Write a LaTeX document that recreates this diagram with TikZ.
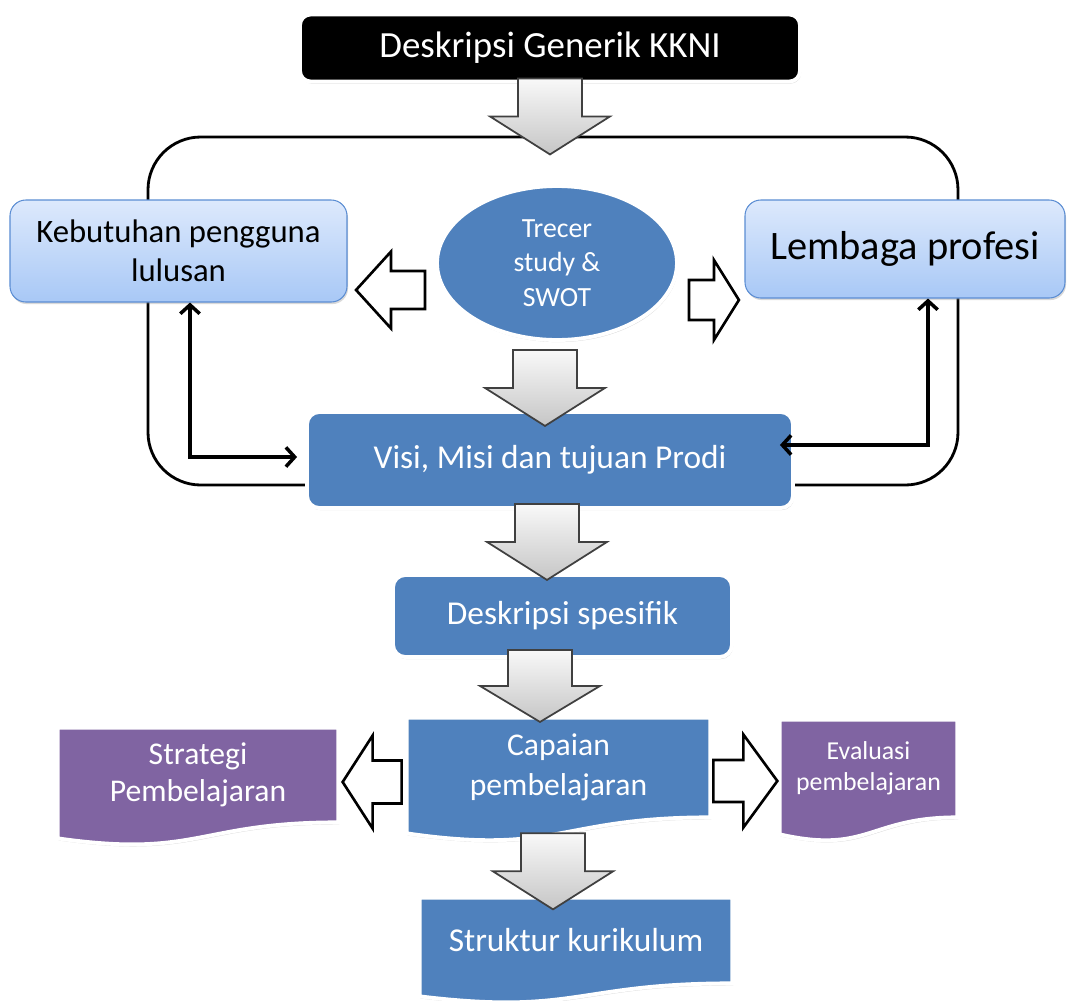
\documentclass[tikz,border=0pt]{standalone}
\usepackage{fontspec}
\setmainfont{Carlito}
\usepackage{tikz}
\usetikzlibrary{shapes.geometric,calc,backgrounds,shadows,arrows.meta}
\usepackage{xcolor}

\definecolor{prodiblue}{HTML}{4F81BD}
\definecolor{ungu}{HTML}{8064A2}
\definecolor{mudatop}{HTML}{DDE9FC}
\definecolor{mudabot}{HTML}{A8C8F6}
\definecolor{mudaedge}{HTML}{5B8DD3}

\tikzset{
  softshadow/.style={drop shadow={opacity=0.3,shadow xshift=0.6pt,shadow yshift=-1.2pt}},
  bluebox/.style={rectangle,rounded corners=7pt,fill=prodiblue,draw=white,line width=2.2pt,softshadow,text=white,inner sep=0pt,font=\fontsize{19pt}{23pt}\selectfont,align=center},
  lightbox/.style={rectangle,rounded corners=9pt,top color=mudatop,bottom color=mudabot,draw=mudaedge,line width=0.6pt,softshadow,inner sep=0pt,align=center},
  doctext/.style={inner sep=0pt,text=white,align=center},
  docpath/.style={draw=white,line width=2.2pt,softshadow},
  grayarrow/.style={top color=gray!5,bottom color=gray!45,draw=black!75,line width=1pt},
  hollow/.style={fill=white,draw=black,line width=1.5pt},
  elbow/.style={line width=2pt,{Straight Barb[length=5pt,width=11pt]}-{Straight Barb[length=5pt,width=11pt]}},
  loopline/.style={line width=1.6pt,rounded corners=30pt}
}

\begin{document}
\begin{tikzpicture}[x=0.2mm,y=-0.2mm]
\useasboundingbox (0,0) rectangle (1073,1001);

% boxes
\node[bluebox,fill=black,rounded corners=6pt,minimum width=100mm,minimum height=13.4mm,font=\fontsize{21pt}{25pt}\selectfont] (kkni) at (550,48) {Deskripsi Generik KKNI};
\node[lightbox,minimum width=67.4mm,minimum height=20.4mm,font=\fontsize{18.6pt}{22pt}\selectfont] (keb) at (178.5,251) {Kebutuhan pengguna\\lulusan};
\node[lightbox,minimum width=64mm,minimum height=19.6mm,font=\fontsize{23pt}{27pt}\selectfont] (lemb) at (905,249) {Lembaga profesi};
\node[ellipse,fill=prodiblue,draw=white,line width=2.2pt,softshadow,minimum width=48mm,minimum height=30.8mm,inner sep=0pt,text=white,align=center,font=\fontsize{15.8pt}{19.5pt}\selectfont] (trecer) at (557,263) {Trecer\\study \&\\SWOT};
\node[bluebox,minimum width=97.2mm,minimum height=19.2mm] (visi) at (550,460) {Visi, Misi dan tujuan Prodi};
\node[bluebox,minimum width=67.8mm,minimum height=16.4mm] (desk) at (562.5,616) {Deskripsi spesifik};
\node[doctext,minimum width=60.6mm,minimum height=19.8mm,font=\fontsize{18pt}{22.7pt}\selectfont] (capaian) at (558.5,767.5) {Capaian\\pembelajaran};
\node[doctext,minimum width=56mm,minimum height=18.8mm,font=\fontsize{18pt}{21pt}\selectfont] (strategi) at (198,775) {Strategi\\Pembelajaran};
\node[doctext,minimum width=35.4mm,minimum height=19.4mm,font=\fontsize{14.7pt}{17.5pt}\selectfont] (evaluasi) at (868.5,768.5) {Evaluasi\\pembelajaran};
\node[doctext,minimum width=62.4mm,minimum height=17mm,font=\fontsize{19pt}{23pt}\selectfont] (struktur) at (576,940.5) {Struktur kurikulum};

\begin{scope}[on background layer]
\draw[loopline] (148,137) rectangle (958,485);
% wavy document shapes
\path[docpath,fill=prodiblue] (capaian.north west) -- (capaian.north east) -- (capaian.south east) .. controls (capaian.south) and ($(capaian.south)+(0,38)$) .. ($(capaian.south west)+(0,16)$) -- cycle;
\path[docpath,fill=ungu] (strategi.north west) -- (strategi.north east) -- (strategi.south east) .. controls (strategi.south) and ($(strategi.south)+(0,36)$) .. ($(strategi.south west)+(0,16)$) -- cycle;
\path[docpath,fill=ungu] (evaluasi.north west) -- (evaluasi.north east) -- (evaluasi.south east) .. controls (evaluasi.south) and ($(evaluasi.south)+(0,37)$) .. ($(evaluasi.south west)+(0,17)$) -- cycle;
\path[docpath,fill=prodiblue] (struktur.north west) -- (struktur.north east) -- (struktur.south east) .. controls (struktur.south) and ($(struktur.south)+(0,32)$) .. ($(struktur.south west)+(0,13)$) -- cycle;
\end{scope}

% thin arrows
\draw[elbow] ($(keb.south)+(11.5,0)$) |- ($(visi.west)+(-8,-3)$);
\draw[elbow] ($(lemb.south)+(23,0)$) |- ($(visi.east)+(-15,-15)$);

% hollow arrows
\draw[hollow] ($(trecer.west)+(-10,8)$) -- ++(-34,0) -- ++(0,-19.5) -- ++(-35,38.5) -- ++(35,38.5) -- ++(0,-19.5) -- ++(34,0) -- cycle;
\draw[hollow] ($(trecer.east)+(10,17)$) -- ++(25,0) -- ++(0,-20) -- ++(25,40) -- ++(-25,40) -- ++(0,-20) -- ++(-25,0) -- cycle;
\draw[hollow] ($(capaian.west)+(-5,-7)$) -- ++(-29,0) -- ++(0,-25) -- ++(-30,46.5) -- ++(30,46.5) -- ++(0,-25) -- ++(29,0) -- cycle;
\draw[hollow] ($(capaian.east)+(3,-7.5)$) -- ++(30,0) -- ++(0,-25.5) -- ++(34,46.5) -- ++(-34,46.5) -- ++(0,-25.5) -- ++(-30,0) -- cycle;

% gray arrows
\draw[grayarrow] ($(kkni.south)+(-32,-5)$) -- ++(64,0) -- ++(0,38) -- ++(28,0) -- ++(-60,38) -- ++(-60,-38) -- ++(28,0) -- cycle;
\draw[grayarrow] ($(trecer.south)+(-44,8)$) -- ++(64,0) -- ++(0,38) -- ++(28,0) -- ++(-60,38) -- ++(-60,-38) -- ++(28,0) -- cycle;
\draw[grayarrow] ($(visi.south)+(-35,-6)$) -- ++(64,0) -- ++(0,38) -- ++(28,0) -- ++(-60,38) -- ++(-60,-38) -- ++(28,0) -- cycle;
\draw[grayarrow] ($(desk.south)+(-54.5,-9)$) -- ++(64,0) -- ++(0,36) -- ++(28,0) -- ++(-60,36) -- ++(-60,-36) -- ++(28,0) -- cycle;
\draw[grayarrow] ($(capaian.south)+(-37.5,16)$) -- ++(64,0) -- ++(0,38) -- ++(28,0) -- ++(-60,38) -- ++(-60,-38) -- ++(28,0) -- cycle;

\end{tikzpicture}
\end{document}
